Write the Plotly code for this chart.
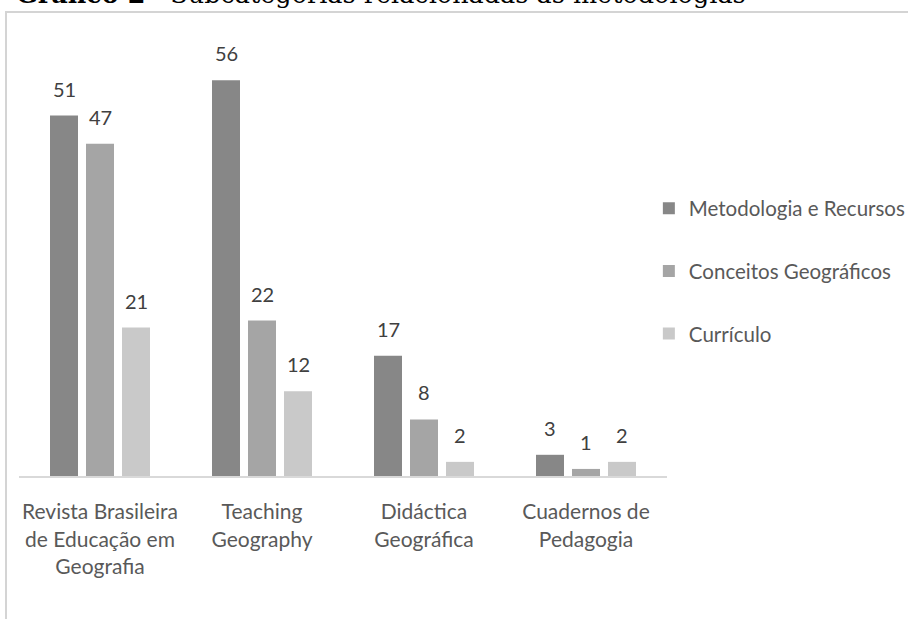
import plotly.graph_objects as go

# ---- data ----
categories = ["Revista Brasileira de Educação em Geografia", "Teaching Geography",
              "Didáctica Geográfica", "Cuadernos de Pedagogia"]
tick_labels = ["Revista Brasileira<br>de Educação em<br>Geografia", "Teaching<br>Geography",
               "Didáctica<br>Geográfica", "Cuadernos de<br>Pedagogia"]
series_names = ["Metodologia e Recursos", "Conceitos Geográficos", "Currículo"]
metodologia = [51, 56, 17, 3]
conceitos = [47, 22, 8, 1]
curriculo = [21, 12, 2, 2]
title_text = "<b>Gráfico 2</b> - Subcategorias relacionadas às metodologias"

series_values = [metodologia, conceitos, curriculo]
colors = ["#878787", "#a5a5a5", "#c9c9c9"]

BARGAP = 0.3333
BARGROUPGAP = 0.2222
FONT = "Lato, Carlito, 'Open Sans', sans-serif"

fig = go.Figure()
for name, vals, col in zip(series_names, series_values, colors):
    fig.add_trace(go.Bar(
        x=categories, y=vals, name=name, legendgroup=name,
        marker=dict(color=col, line=dict(width=0)),
    ))

# value labels placed above bars (computed from data & group offsets)
n = len(series_values)
slot = (1 - BARGAP) / n
annotations = []
for j, vals in enumerate(series_values):
    off = (j - (n - 1) / 2) * slot
    for i, v in enumerate(vals):
        annotations.append(dict(
            x=i + off, y=v, xref="x", yref="y", text=str(v), showarrow=False,
            yanchor="bottom", xanchor="center", yshift=13,
            font=dict(family=FONT, size=20, color="#404040"),
        ))

# title, cut off at the very top as in the source image
annotations.append(dict(
    x=-0.0077, y=1, xref="paper", yref="paper", xanchor="left", yanchor="bottom",
    yshift=41, text=title_text, showarrow=False,
    font=dict(family="'DejaVu Serif', serif", size=25.5, color="#000000"),
))

fig.update_layout(
    width=908, height=619,
    margin=dict(l=19, r=241, t=52, b=143, autoexpand=False),
    paper_bgcolor="white", plot_bgcolor="white",
    barmode="group", bargap=BARGAP, bargroupgap=BARGROUPGAP,
    showlegend=True,
    legend=dict(
        x=0.972, y=0.4835, xanchor="left", yanchor="middle",
        font=dict(family=FONT, size=20.5, color="#595959"),
        tracegroupgap=33, itemwidth=30, bgcolor="rgba(0,0,0,0)",
    ),
    annotations=annotations,
    shapes=[dict(
        type="rect", xref="paper", yref="paper",
        x0=(6 - 19) / 648, x1=(940 - 19) / 648,
        y0=(476 - 660) / 424, y1=(476 - 12) / 424,
        line=dict(color="#d4d4d4", width=2), fillcolor="rgba(0,0,0,0)", layer="below",
    )],
    xaxis=dict(
        type="category", tickvals=categories, ticktext=tick_labels,
        showline=True, linecolor="#d9d9d9", linewidth=2, ticks="",
        tickfont=dict(family=FONT, size=21, color="#595959"),
        ticklabelstandoff=16, showgrid=False,
    ),
    yaxis=dict(range=[0, 60], showticklabels=False, showgrid=False,
               zeroline=False, showline=False),
)

fig.write_html("out.html", config={"displayModeBar": False},
               post_script="document.body.style.margin='0';")
